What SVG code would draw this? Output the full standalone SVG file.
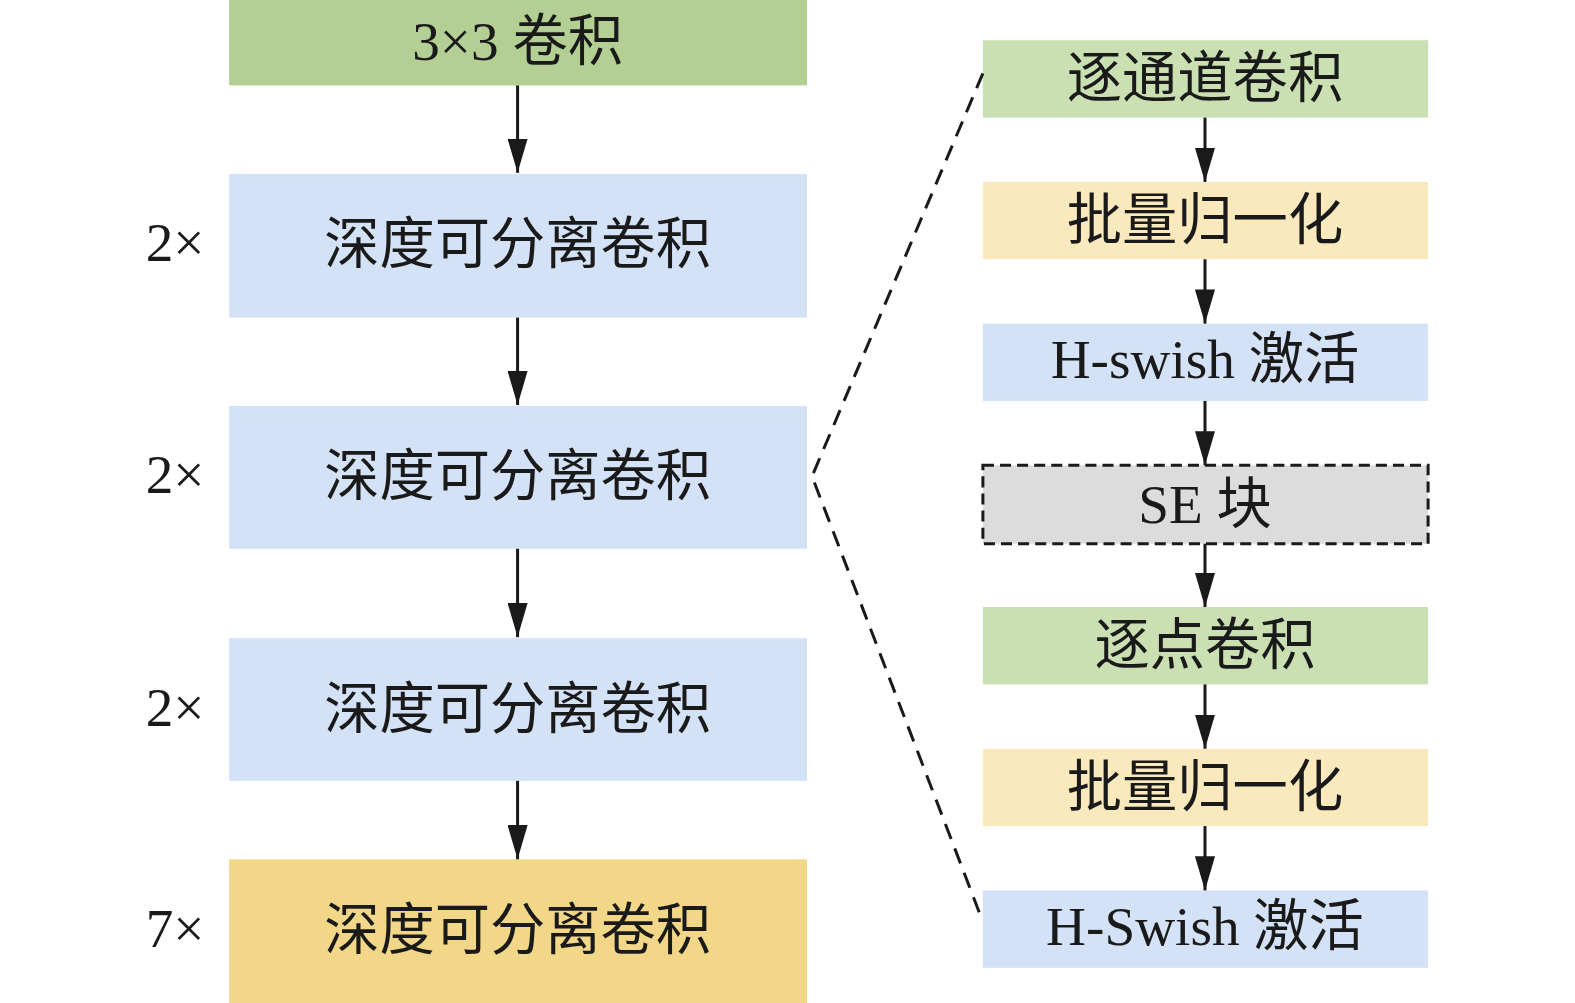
<svg xmlns="http://www.w3.org/2000/svg" width="1575" height="1003" viewBox="0 0 1575 1003">
<style>
text{font-family:"Liberation Serif","Noto Sans CJK SC",serif;font-size:55px;fill:#1a1a1a}
.c{text-anchor:middle}
.con{stroke:#1a1a1a;stroke-width:3;fill:none}
.dash{stroke:#1a1a1a;stroke-width:3;fill:none;stroke-dasharray:16 10}
</style>
<defs>
<marker id="ah" markerUnits="userSpaceOnUse" markerWidth="34" markerHeight="20" refX="34" refY="10" orient="auto" viewBox="0 0 34 20">
<polygon points="0,0 34,10 0,20" fill="#1a1a1a"/>
</marker>
</defs>
<rect width="1575" height="1003" fill="#ffffff"/>
<g transform="scale(1.005)">
<g id="n-conv3x3"><rect x="228" y="0" width="575" height="85" fill="#b3cf93"/><text class="c" x="515" y="60">3×3 卷积</text></g>
<g id="n-dsc1"><rect x="228" y="173" width="575" height="143" fill="#d3e2f6"/><text class="c" x="515" y="262">深度可分离卷积</text><text x="145" y="260">2×</text></g>
<g id="n-dsc2"><rect x="228" y="404" width="575" height="142" fill="#d3e2f6"/><text class="c" x="515" y="493">深度可分离卷积</text><text x="145" y="491">2×</text></g>
<g id="n-dsc3"><rect x="228" y="635" width="575" height="142" fill="#d3e2f6"/><text class="c" x="515" y="724">深度可分离卷积</text><text x="145" y="722">2×</text></g>
<g id="n-dsc4"><rect x="228" y="855" width="575" height="145" fill="#f2d788"/><text class="c" x="515" y="944">深度可分离卷积</text><text x="145" y="942">7×</text></g>
<g id="n-dw"><rect x="978" y="40" width="443" height="77" fill="#cadfb2"/><text class="c" x="1199" y="97">逐通道卷积</text></g>
<g id="n-bn1"><rect x="978" y="181" width="443" height="77" fill="#f9e9bc"/><text class="c" x="1199" y="238">批量归一化</text></g>
<g id="n-hs1"><rect x="978" y="322" width="443" height="77" fill="#d3e2f6"/><text class="c" x="1199" y="376">H-swish 激活</text></g>
<g id="n-se"><rect x="978" y="463" width="443" height="78" fill="#dcdcdc" stroke="#1a1a1a" stroke-width="3" stroke-dasharray="11 6"/><text class="c" x="1199" y="520">SE 块</text></g>
<g id="n-pw"><rect x="978" y="604" width="443" height="77" fill="#cadfb2"/><text class="c" x="1199" y="661">逐点卷积</text></g>
<g id="n-bn2"><rect x="978" y="745" width="443" height="77" fill="#f9e9bc"/><text class="c" x="1199" y="802">批量归一化</text></g>
<g id="n-hs2"><rect x="978" y="886" width="443" height="77" fill="#d3e2f6"/><text class="c" x="1199" y="940">H-Swish 激活</text></g>
<g id="connectors">
<line class="con" x1="515" y1="85" x2="515" y2="172" marker-end="url(#ah)"/>
<line class="con" x1="515" y1="316" x2="515" y2="403" marker-end="url(#ah)"/>
<line class="con" x1="515" y1="546" x2="515" y2="634" marker-end="url(#ah)"/>
<line class="con" x1="515" y1="777" x2="515" y2="855" marker-end="url(#ah)"/>
<line class="con" x1="1199" y1="117" x2="1199" y2="181" marker-end="url(#ah)"/>
<line class="con" x1="1199" y1="258" x2="1199" y2="322" marker-end="url(#ah)"/>
<line class="con" x1="1199" y1="399" x2="1199" y2="463" marker-end="url(#ah)"/>
<line class="con" x1="1199" y1="541" x2="1199" y2="604" marker-end="url(#ah)"/>
<line class="con" x1="1199" y1="681" x2="1199" y2="745" marker-end="url(#ah)"/>
<line class="con" x1="1199" y1="822" x2="1199" y2="886" marker-end="url(#ah)"/>
<polyline class="dash" points="978,73 808,474 976,912"/>
</g>
</g>
</svg>
